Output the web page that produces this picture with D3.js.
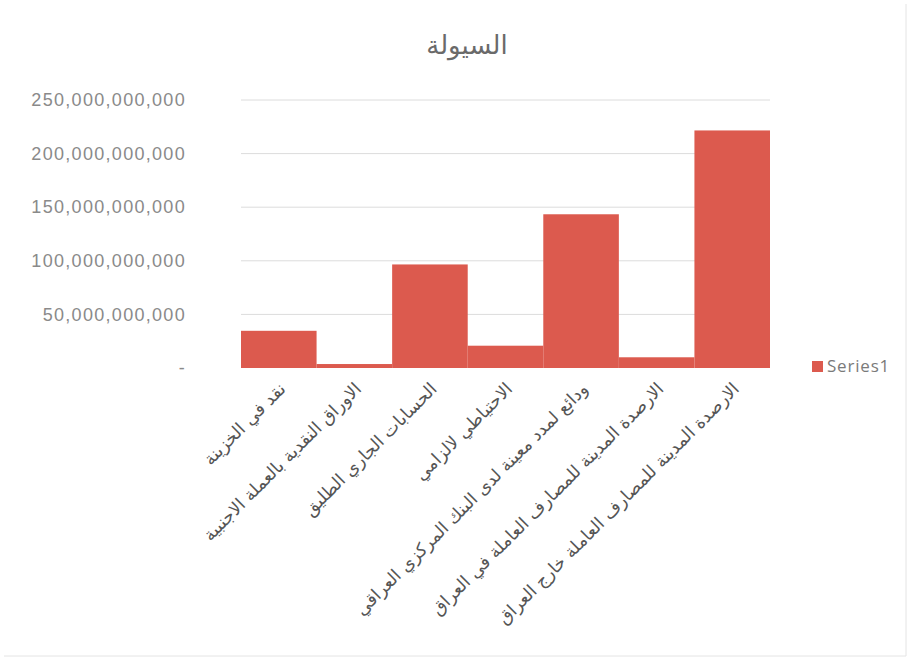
<!DOCTYPE html>
<html>
<head>
<meta charset="utf-8">
<script src="https://cdn.jsdelivr.net/npm/d3@7"></script>
<style>
  body { margin: 0; background: #fff; }
  svg { font-family: "Open Sans", "DejaVu Sans", sans-serif; }
</style>
</head>
<body>
<div id="chart"></div>
<script>
const categories = [
    'نقد في الخزينة',
    'الاوراق النقدية بالعملة الاجنبية',
    'الحسابات الجاري الطليق',
    'الاحتياطي لالزامي',
    'ودائع لمدد معينة لدى البنك المركزي العراقي',
    'الارصدة المدينة للمصارف العاملة في العراق',
    'الارصدة المدينة للمصارف العاملة خارج العراق'
];
const values = [34700000000, 3700000000, 96600000000, 20800000000, 143400000000, 10000000000, 221600000000];
const yTicks = [0, 50000000000, 100000000000, 150000000000, 200000000000, 250000000000];
const title = 'السيولة';
const seriesName = 'Series1';

// plot area
const margin = {top: 100, right: 144, bottom: 295, left: 241};
const width = 914;
const height = 663;
const plotW = width - margin.left - margin.right;
const plotH = height - margin.top - margin.bottom;

const svg = d3.select('#chart').append('svg')
    .attr('width', width)
    .attr('height', height);

svg.append('rect')
    .attr('x', 0).attr('y', 0)
    .attr('width', width).attr('height', height)
    .attr('fill', '#ffffff');

// faint frame of the chart area
svg.append('path')
    .attr('d', `M906,4 V656 H4`)
    .attr('fill', 'none')
    .attr('stroke', '#e4e4e4');

const g = svg.append('g')
    .attr('transform', `translate(${margin.left},${margin.top})`);

const x = d3.scaleBand()
    .domain(categories)
    .range([0, plotW])
    .padding(0);

const y = d3.scaleLinear()
    .domain([0, 250000000000])
    .range([plotH, 0]);

// gridlines
g.selectAll('.grid')
    .data(yTicks.filter(d => d > 0))
    .join('line')
    .attr('class', 'grid')
    .attr('x1', 0)
    .attr('x2', plotW)
    .attr('y1', d => y(d))
    .attr('y2', d => y(d))
    .attr('stroke', '#dcdcdc')
    .attr('stroke-width', 1);

// y axis labels
const yAxis = d3.axisLeft(y)
    .tickValues(yTicks)
    .tickSize(0)
    .tickPadding(55)
    .tickFormat(d => d === 0 ? '-' : d3.format(',')(d));

g.append('g')
    .call(yAxis)
    .call(a => a.select('.domain').remove())
    .selectAll('text')
    .attr('fill', '#8a8a8a')
    .style('font-size', '18px')
    .style('letter-spacing', '1.3px');

// bars
g.selectAll('.bar')
    .data(values)
    .join('rect')
    .attr('class', 'bar')
    .attr('x', (d, i) => x(categories[i]))
    .attr('y', d => y(d))
    .attr('width', x.bandwidth())
    .attr('height', d => plotH - y(d))
    .attr('fill', '#dc5a4e');

// category labels, rotated
g.selectAll('.cat')
    .data(categories)
    .join('text')
    .attr('class', 'cat')
    .attr('transform', d => `translate(${x(d) + x.bandwidth() / 2 + 8},${plotH + 22}) rotate(-45)`)
    .attr('text-anchor', 'end')
    .attr('fill', '#555555')
    .style('font-family', '"DejaVu Sans", sans-serif')
    .style('font-size', '17.5px')
    .text(d => d);

// title
svg.append('text')
    .attr('x', 467)
    .attr('y', 54)
    .attr('text-anchor', 'middle')
    .attr('fill', '#6a6a6a')
    .style('font-family', '"DejaVu Sans", sans-serif')
    .style('font-size', '26px')
    .text(title);

// legend
const legend = svg.append('g')
    .attr('transform', `translate(812,361)`);
legend.append('rect')
    .attr('width', 11).attr('height', 11)
    .attr('fill', '#dc5a4e');
legend.append('text')
    .attr('x', 15)
    .attr('y', 11)
    .attr('fill', '#7a7a7a')
    .style('font-size', '17px')
    .style('letter-spacing', '0.8px')
    .text(seriesName);
</script>
</body>
</html>
